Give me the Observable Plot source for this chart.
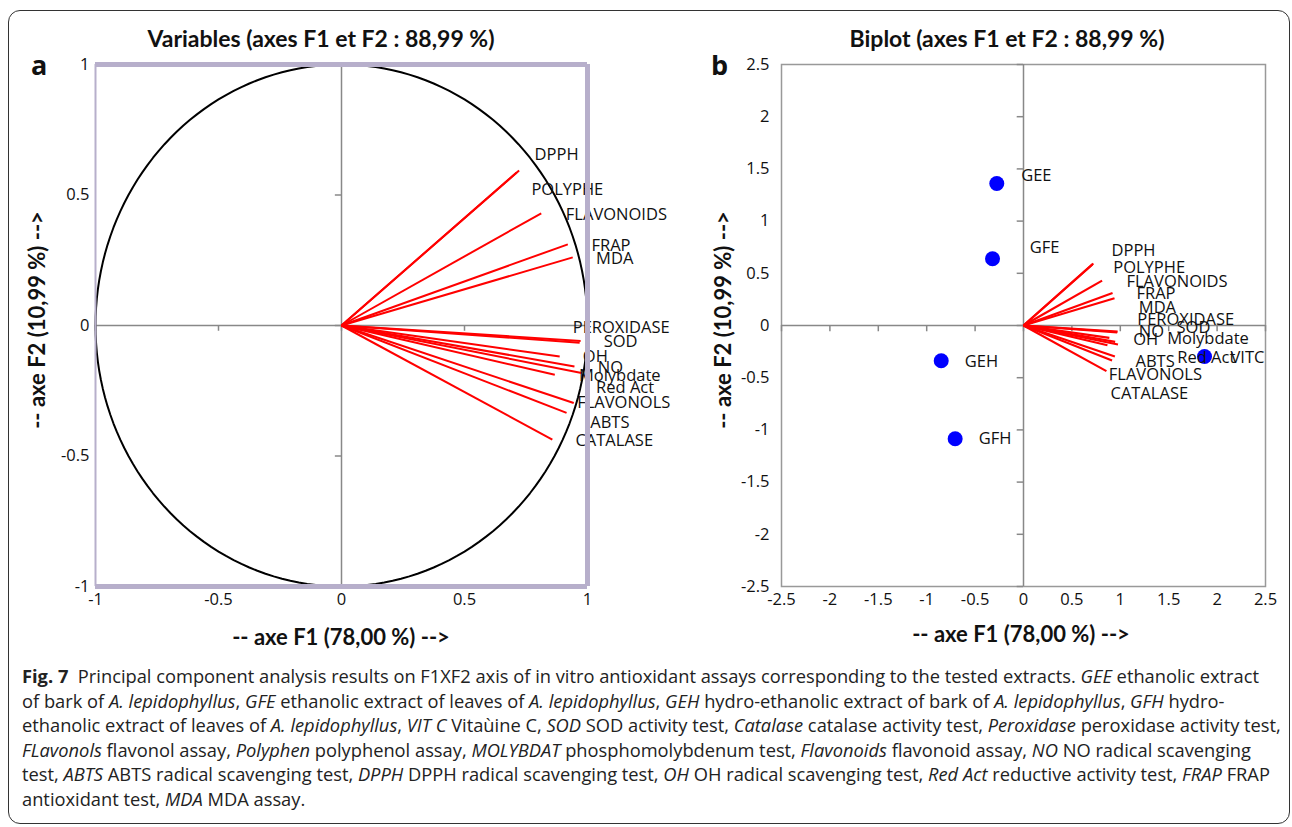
<!DOCTYPE html>
<html><head><meta charset="utf-8">
<script src="https://cdn.jsdelivr.net/npm/d3@7"></script>
<script src="https://cdn.jsdelivr.net/npm/@observablehq/plot@0.6"></script>
<style>
body{margin:0;background:#fff;width:1292px;height:827px;overflow:hidden;position:relative;font-family:"Open Sans",sans-serif}
.box{position:absolute;left:8px;top:10px;width:1280px;height:812px;border:1px solid #333;border-radius:12px;}
.t{position:absolute;font-family:Lato,sans-serif;font-weight:bold;font-size:22px;color:#111;white-space:nowrap;transform:translate(-50%,-50%)}
.ttl{font-size:23px}
.rot{transform:translate(-50%,-50%) rotate(-90deg)}
.letter{position:absolute;font-family:"Open Sans",sans-serif;font-weight:bold;font-size:27px;color:#111;transform:translateY(-50%)}
#a,#b{position:absolute;top:30px}
#a{left:0}#b{left:690px}
.caption{position:absolute;left:22px;top:664px;font-family:"Open Sans",sans-serif;font-size:18.3px;line-height:24.6px;color:#222;white-space:nowrap}
</style></head>
<body>
<div class="box"></div>
<div id="a"></div><div id="b"></div>
<div class="t ttl" style="left:321px;top:38px">Variables (axes F1 et F2 : 88,99 %)</div>
<div class="t ttl" style="left:1007px;top:38px">Biplot (axes F1 et F2 : 88,99 %)</div>
<div class="letter" style="left:31px;top:64px">a</div>
<div class="letter" style="left:711px;top:64px">b</div>
<div class="t" style="left:341px;top:636px">-- axe F1 (78,00 %) --&gt;</div>
<div class="t" style="left:1021px;top:633px">-- axe F1 (78,00 %) --&gt;</div>
<div class="t rot" style="left:36px;top:320px">-- axe F2 (10,99 %) --&gt;</div>
<div class="t rot" style="left:722px;top:320px">-- axe F2 (10,99 %) --&gt;</div>
<div class="caption"><b>Fig. 7</b>&nbsp; Principal component analysis results on F1XF2 axis of in vitro antioxidant assays corresponding to the tested extracts. <i>GEE</i> ethanolic extract<br>of bark of <i>A. lepidophyllus</i>, <i>GFE</i> ethanolic extract of leaves of <i>A. lepidophyllus</i>, <i>GEH</i> hydro-ethanolic extract of bark of <i>A. lepidophyllus</i>, <i>GFH</i> hydro-<br>ethanolic extract of leaves of <i>A. lepidophyllus</i>, <i>VIT C</i> Vitaùine C, <i>SOD</i> SOD activity test, <i>Catalase</i> catalase activity test, <i>Peroxidase</i> peroxidase activity test,<br><i>FLavonols</i> flavonol assay, <i>Polyphen</i> polyphenol assay, <i>MOLYBDAT</i> phosphomolybdenum test, <i>Flavonoids</i> flavonoid assay, <i>NO</i> NO radical scavenging<br>test, <i>ABTS</i> ABTS radical scavenging test, <i>DPPH</i> DPPH radical scavenging test, <i>OH</i> OH radical scavenging test, <i>Red Act</i> reductive activity test, <i>FRAP</i> FRAP<br>antioxidant test, <i>MDA</i> MDA assay.</div>
<script>
// ---- data ----
const varNames = ["DPPH","POLYPHE","FLAVONOIDS","FRAP","MDA","PEROXIDASE","SOD","OH","NO","Molybdate","Red Act","FLAVONOLS","ABTS","CATALASE"];
const varF1 = [0.722,0.712,0.812,0.920,0.940,0.972,0.968,0.887,0.947,0.976,0.867,0.944,0.915,0.857];
const varF2 = [0.594,0.586,0.430,0.311,0.261,-0.059,-0.066,-0.119,-0.157,-0.182,-0.189,-0.297,-0.335,-0.437];
// label anchors (panel a, panel b)
const labA_F1 = [0.785,0.772,0.912,1.016,1.035,0.940,1.066,0.981,1.042,0.965,1.035,0.958,1.011,0.951];
const labA_F2 = [0.655,0.520,0.425,0.307,0.256,-0.008,-0.062,-0.119,-0.160,-0.193,-0.238,-0.297,-0.371,-0.440];
const labB_F1 = [0.909,0.927,1.064,1.167,1.191,1.175,1.581,1.133,1.191,1.484,1.588,0.881,1.157,0.899];
const labB_F2 = [0.712,0.558,0.424,0.309,0.170,0.057,-0.022,-0.137,-0.055,-0.127,-0.304,-0.469,-0.345,-0.654];
const obsNames = ["GEE","GFE","GEH","GFH","VITC"];
const obsF1 = [-0.276,-0.320,-0.850,-0.706,1.870];
const obsF2 = [1.360,0.639,-0.338,-1.085,-0.297];
const obsLabF1 = [-0.024,0.065,-0.606,-0.462,2.138];
const obsLabF2 = [1.437,0.744,-0.345,-1.089,-0.304];
const ticksA = [-1,-0.5,0,0.5,1];
const ticksB = [-2.5,-2,-1.5,-1,-0.5,0,0.5,1,1.5,2,2.5];

const vars = varNames.map((n,i)=>({n, x:varF1[i], y:varF2[i]}));
const labA = varNames.map((n,i)=>({n, x:labA_F1[i], y:labA_F2[i]}));
const labB = varNames.map((n,i)=>({n, x:labB_F1[i], y:labB_F2[i]}));
const obs = obsNames.map((n,i)=>({n, x:obsF1[i], y:obsF2[i]}));
const obsLab = obsNames.map((n,i)=>({n, x:obsLabF1[i], y:obsLabF2[i]}));
const circle = d3.range(0, 361, 2).map(a => ({x: Math.cos(a*Math.PI/180), y: Math.sin(a*Math.PI/180)}));
const fmt = d => String(d);
const style = {fontFamily:"Open Sans", fontSize:"16.5px", color:"#111", background:"transparent", overflow:"visible"};
const lav = "#b7afcb";
const fs = 16.5;

const pa = Plot.plot({
  width: 690, height: 630, marginLeft: 95, marginRight: 103, marginTop: 34, marginBottom: 74,
  style,
  x: {domain:[-1,1]}, y: {domain:[-1,1]},
  marks: [
    Plot.ruleX([0], {stroke:"#888", strokeWidth:1.5}),
    Plot.ruleY([0], {stroke:"#888", strokeWidth:1.5}),
    Plot.ruleY(ticksA, {y: d=>d, x1: 0, x2: -0.025, stroke:"#888", strokeWidth:1.5}),
    Plot.ruleX(ticksA, {x: d=>d, y1: 0, y2: -0.022, stroke:"#888", strokeWidth:1.5}),
    Plot.line(circle, {x:"x", y:"y", stroke:"black", strokeWidth:2}),
    Plot.link(vars, {x1: 0, y1: 0, x2: "x", y2: "y", stroke:"red", strokeWidth:2}),
    Plot.text(labA, {x:"x", y:"y", text:"n", textAnchor:"start", fill:"#111", fontSize:fs}),
    Plot.ruleX([-1], {stroke:lav, strokeWidth:2}),
    Plot.ruleY([1,-1], {stroke:lav, strokeWidth:5}),
    Plot.ruleX([1], {stroke:lav, strokeWidth:5}),
    Plot.axisX(ticksA, {tickSize:0, tickPadding:7, tickFormat: fmt, fill:"#111", label:null, fontSize:fs}),
    Plot.axisY(ticksA, {tickSize:0, tickPadding:6, tickFormat: fmt, fill:"#111", label:null, fontSize:fs})
  ]
});
document.getElementById("a").appendChild(pa);

const pb = Plot.plot({
  width: 602, height: 630, marginLeft: 91, marginRight: 27, marginTop: 34, marginBottom: 74,
  style,
  x: {domain:[-2.5,2.5]}, y: {domain:[-2.5,2.5]},
  marks: [
    Plot.frame({stroke:"#999", strokeWidth:1.5}),
    Plot.ruleX([0], {stroke:"#888", strokeWidth:1.5}),
    Plot.ruleY([0], {stroke:"#888", strokeWidth:1.5}),
    Plot.ruleY(ticksB, {y: d=>d, x1: 0, x2: -0.065, stroke:"#888", strokeWidth:1.5}),
    Plot.ruleX(ticksB, {x: d=>d, y1: 0, y2: -0.06, stroke:"#888", strokeWidth:1.5}),
    Plot.link(vars, {x1: 0, y1: 0, x2: "x", y2: "y", stroke:"red", strokeWidth:2.2}),
    Plot.dot(obs, {x:"x", y:"y", r:7.5, fill:"#0000ff", stroke:"none"}),
    Plot.text(labB, {x:"x", y:"y", text:"n", textAnchor:"start", fill:"#111", fontSize:fs}),
    Plot.text(obsLab, {x:"x", y:"y", text:"n", textAnchor:"start", fill:"#111", fontSize:fs}),
    Plot.axisX(ticksB, {tickSize:0, tickPadding:7, tickFormat: fmt, fill:"#111", label:null, fontSize:fs}),
    Plot.axisY(ticksB, {tickSize:0, tickPadding:12, tickFormat: fmt, fill:"#111", label:null, fontSize:fs})
  ]
});
document.getElementById("b").appendChild(pb);
</script>
</body></html>
